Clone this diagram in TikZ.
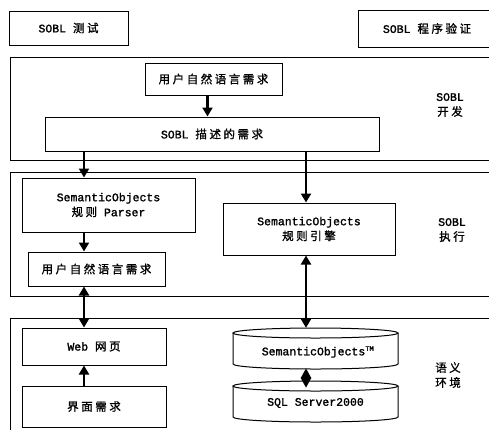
\documentclass[tikz,border=0pt]{standalone}
\usepackage{fontspec}
\setmainfont{Liberation Mono}[FakeBold=1.5]
\newfontfamily\cjk{Noto Sans CJK SC}[LetterSpace=22,FakeBold=1.2]
\usetikzlibrary{arrows.meta,calc}
\newcommand\zh[1]{{\cjk #1}}
\begin{document}
\begin{tikzpicture}[x=1pt,y=-1pt,
  every node/.style={font=\fontsize{11.5}{15}\selectfont},
  box/.style args={#1/#2}{draw,line width=1pt,minimum width=#1,minimum height=#2,inner sep=0pt,align=center},
  ghost/.style args={#1/#2}{minimum width=#1,minimum height=#2,inner sep=0pt},
  layer/.style={line width=1pt},
  cyl/.style={line width=1pt},
  lbl/.style={align=center,inner sep=0pt},
  arr/.style={line width=2.4pt,-{Triangle[length=9pt,width=10pt]}},
  darr/.style={line width=2.4pt,{Triangle[length=9pt,width=10pt]}-{Triangle[length=9pt,width=10pt]}},
  diam/.style={line width=2.4pt,{Triangle[length=10pt,width=10pt]}-{Triangle[length=10pt,width=10pt]}}]
\useasboundingbox (0,0) rectangle (489,429);
\clip (0,0) rectangle (489,429);

% top boxes
\node[box=119/34] (test) at (68.5,28) {SOBL \zh{测试}};
\node[box=142/37] (verify) at (429,28.5) {};
\node[lbl] (verifyt) at (427,28.5) {SOBL \zh{程序验证}};

% layers
\draw[layer] (495,57) -- (10,57) -- (10,160) -- (495,160);
\draw[layer] (495,172) -- (10,172) -- (10,296) -- (495,296);
\draw[layer] (495,318) -- (10,318) -- (10,440);

% layer labels
\node[lbl] (l1) at (450,105) {SOBL\\\zh{开发}};
\node[lbl] (l2) at (452,230) {SOBL\\\zh{执行}};
\node[lbl] (l3) at (448,375) {\zh{语义}\\\zh{环境}};

% layer 1
\node[box=137/32] (req1) at (213.5,79) {\zh{用户自然语言需求}};
\node[box=334/34] (sobl) at (212,134) {SOBL \zh{描述的需求}};

% layer 2
\node[box=173/54] (parser) at (108.5,205) {SemanticObjects\\\zh{规则} Parser};
\node[box=137/34] (req2) at (96.5,269) {\zh{用户自然语言需求}};
\node[box=172/52] (engine) at (309,229) {SemanticObjects\\\zh{规则引擎}};

% layer 3
\node[box=144/37] (web) at (94,346.5) {Web \zh{网页}};
\node[box=144/41] (ui) at (94,406.5) {\zh{界面需求}};

% cylinders
\draw[cyl] (315.5,333) ellipse [x radius=82.5, y radius=5];
\draw[cyl] (233,333) -- (233,364) arc[start angle=180,end angle=0,x radius=82.5,y radius=5] -- (398,333);
\draw[cyl] (315.5,386) ellipse [x radius=82.5, y radius=5];
\draw[cyl] (233,386) -- (233,417) arc[start angle=180,end angle=0,x radius=82.5,y radius=5] -- (398,386);
\node[ghost=165/41] (cylA) at (315.5,348.5) {};
\node[ghost=165/42] (cylB) at (315.5,402) {};
\node[lbl] (cylAt) at (318,352) {SemanticObjects\textsuperscript{\fontsize{7}{7}\selectfont TM}};
\node[lbl] (cylBt) at (315.5,403) {SQL Server2000};

% connectors
\coordinate (ax1) at (84,0);
\coordinate (ax2) at (306,0);
\draw[arr] ([xshift=-6pt]req1.south) -- ([xshift=-6pt]req1.south |- sobl.north);
\draw[arr] (ax1 |- sobl.south) -- (ax1 |- parser.north);
\draw[arr] (ax2 |- sobl.south) -- (ax2 |- engine.north);
\draw[arr] (ax1 |- parser.south) -- (ax1 |- req2.north);
\draw[darr] (ax1 |- req2.south) -- (ax1 |- web.north);
\draw[arr] (ax1 |- ui.north) -- (ax1 |- web.south);
\draw[darr] (ax2 |- engine.south) -- (ax2 |- cylA.north);
\draw[diam] ([yshift=1pt]ax2 |- cylA.south) -- ([yshift=-7pt]ax2 |- cylB.north);
\end{tikzpicture}
\end{document}
